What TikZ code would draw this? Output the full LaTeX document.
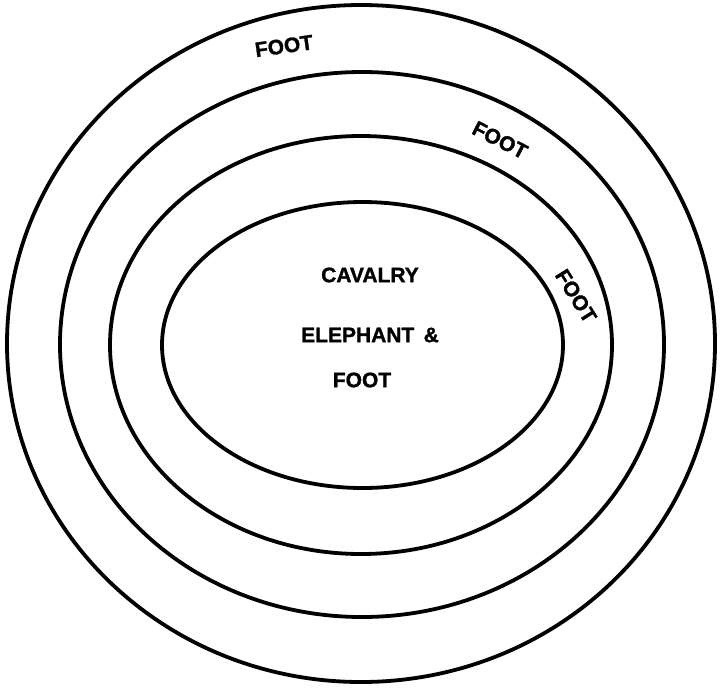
\documentclass[tikz,border=0pt]{standalone}
\usepackage{fontspec}
\newfontfamily\labfont[FakeBold=1.2]{Liberation Sans Bold}
\begin{document}
\begin{tikzpicture}[x=1pt,y=-1pt,
  ring/.style={line width=3.8pt},
  lab/.style={font=\labfont\fontsize{21}{25}\selectfont, inner sep=0pt}]
\useasboundingbox (0,0) rectangle (720,689);
\draw[ring] (361,343.5) ellipse [x radius=354, y radius=338.5];
\draw[ring] (362,344.5) ellipse [x radius=302, y radius=272.5];
\draw[ring] (361,345) ellipse [x radius=251, y radius=209];
\draw[ring] (362.5,345) ellipse [x radius=200.5, y radius=143];
\node[lab, rotate=8] (f1) at (284,46) {FOOT};
\node[lab, rotate=-27] (f2) at (500,140) {FOOT};
\node[lab, rotate=-58] (f3) at (576,296) {FOOT};
\node[lab] (cav) at (370,275) {CAVALRY};
\node[lab] (ele) at (370,335) {ELEPHANT \,\&};
\node[lab] (f4) at (362,380) {FOOT};
\end{tikzpicture}
\end{document}
